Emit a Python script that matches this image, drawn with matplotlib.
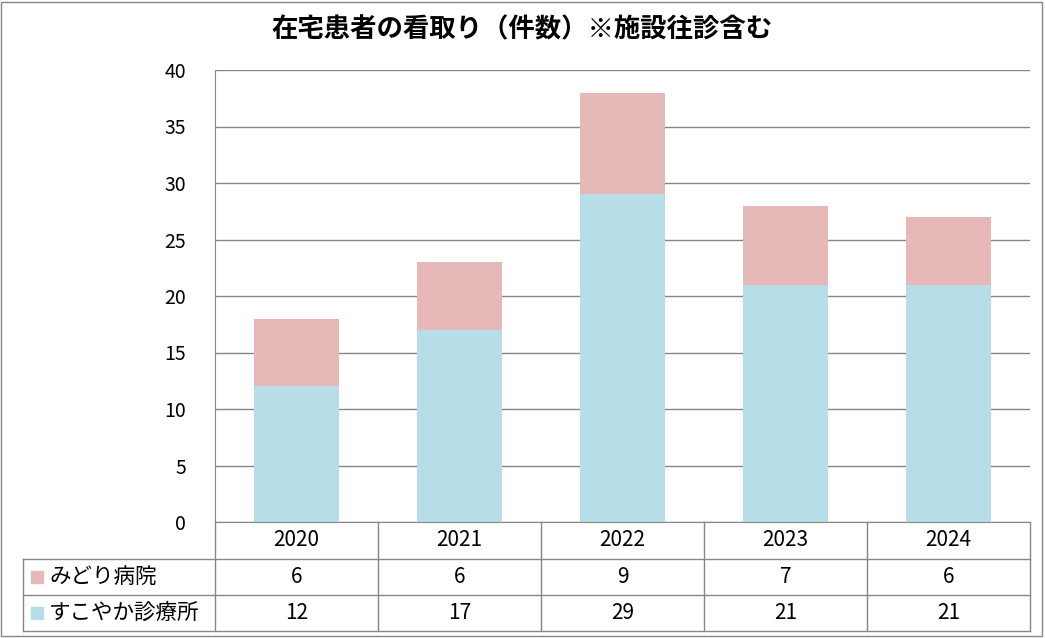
import matplotlib
matplotlib.use('Agg')
import matplotlib.pyplot as plt
import numpy as np
from matplotlib.patches import Rectangle
from matplotlib.lines import Line2D

plt.rcParams['font.family'] = ['Noto Sans CJK JP', 'DejaVu Sans']

years = ['2020', '2021', '2022', '2023', '2024']
seriesNames = ['みどり病院', 'すこやか診療所']
midori = [6, 6, 9, 7, 6]
sukoyaka = [12, 17, 29, 21, 21]
colMidori = '#E6B9B8'
colSukoyaka = '#B7DEE8'
gridCol = '#868686'

W, H = 1045, 638
fig = plt.figure(figsize=(W / 100, H / 100), dpi=100)

def fx(px):
    return px / W

def fy(py):
    return 1 - py / H

# plot area in pixels
left, right, top, bottom = 215, 1030, 70, 522
ax = fig.add_axes([fx(left), fy(bottom), fx(right) - fx(left), fy(top) - fy(bottom)])

ind = np.arange(len(years))
barWidth = 0.52
ax.bar(ind, sukoyaka, barWidth, color=colSukoyaka, zorder=2)
ax.bar(ind, midori, barWidth, bottom=sukoyaka, color=colMidori, zorder=2)

ax.set_xlim(-0.5, len(years) - 0.5)
ax.set_ylim(0, 40)
ax.set_yticks(np.arange(0, 41, 5))
ax.yaxis.grid(True, color=gridCol, linewidth=1)
ax.set_axisbelow(True)
ax.set_xticks([])
ax.tick_params(axis='y', length=0, pad=21, labelsize=14)
for s in ['top', 'right']:
    ax.spines[s].set_visible(False)
ax.spines['left'].set_color(gridCol)
ax.spines['bottom'].set_color(gridCol)

fig.text(fx(522), fy(30), '在宅患者の看取り（件数）※施設往診含む', ha='center', va='center',
         fontsize=19, fontweight='bold')

# data table under the plot
rowY = [522, 559, 595, 631]
colW = (right - left) / len(years)
tableLeft = 23

def hline(x0, x1, y):
    fig.add_artist(Line2D([fx(x0), fx(x1)], [fy(y), fy(y)], color=gridCol, lw=1))

def vline(x, y0, y1):
    fig.add_artist(Line2D([fx(x), fx(x)], [fy(y0), fy(y1)], color=gridCol, lw=1))

for y in rowY[1:]:
    hline(tableLeft, right, y)
vline(tableLeft, rowY[1], rowY[3])
for k in range(len(years) + 1):
    vline(left + k * colW, rowY[0], rowY[3])

for i, yr in enumerate(years):
    cx = left + (i + 0.5) * colW
    fig.text(fx(cx), fy((rowY[0] + rowY[1]) / 2), yr, ha='center', va='center', fontsize=15)
    fig.text(fx(cx), fy((rowY[1] + rowY[2]) / 2), str(midori[i]), ha='center', va='center', fontsize=15)
    fig.text(fx(cx), fy((rowY[2] + rowY[3]) / 2), str(sukoyaka[i]), ha='center', va='center', fontsize=15)

for r, (name, col) in enumerate(zip(seriesNames, [colMidori, colSukoyaka])):
    cy = (rowY[r + 1] + rowY[r + 2]) / 2
    fig.add_artist(Rectangle((fx(31), fy(cy + 6)), fx(12), fy(0) - fy(12), color=col,
                             transform=fig.transFigure))
    fig.text(fx(49), fy(cy), name, ha='left', va='center', fontsize=15.5)

# outer border
fig.add_artist(Rectangle((fx(1), fy(636)), fx(1041), fy(2) - fy(636), fill=False,
                         edgecolor=gridCol, lw=1, transform=fig.transFigure))

fig.savefig('out.png', dpi=100)
